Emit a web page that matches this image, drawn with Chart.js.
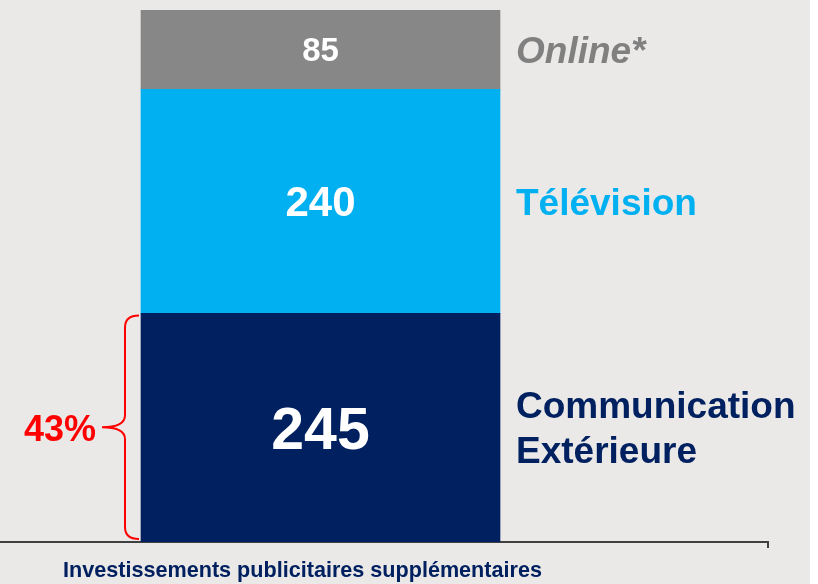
<!DOCTYPE html>
<html>
<head>
<meta charset="utf-8">
<script src="https://cdn.jsdelivr.net/npm/chart.js@4"></script>
<style>
    html, body { margin: 0; padding: 0; background: #ffffff; }
    #wrap { width: 818px; height: 584px; }
</style>
</head>
<body>
<div id="wrap"><canvas id="chart" width="818" height="584"></canvas></div>
<script>
// Données du graphique
const categories = ['Investissements publicitaires supplémentaires'];
const segmentNames = [['Communication', 'Extérieure'], ['Télévision'], ['Online*']];
const segmentValues = [245, 240, 85];

const total = segmentValues.reduce((acc, v) => acc + v, 0);
const FONT = '"Liberation Sans", Arial, sans-serif';

// Styles par segment (bas -> haut)
const segmentColors = ['#002060', '#00b0f0', '#878787'];
const textColors = ['#002060', '#00b0f0', '#808080'];
const valueSizes = [59, 42, 33];

const bgPlugin = {
    id: 'bg',
    beforeDraw(chart) {
        const ctx = chart.ctx;
        ctx.save();
        ctx.fillStyle = '#ebe9e7';
        ctx.fillRect(0, 0, 810, chart.height);
        ctx.restore();
    }
};

// Valeurs dans les barres + libellés à droite
const labelsPlugin = {
    id: 'segLabels',
    afterDatasetsDraw(chart) {
        const ctx = chart.ctx;
        ctx.save();
        chart.data.datasets.forEach((ds, i) => {
            const bar = chart.getDatasetMeta(i).data[0];
            const cy = (bar.y + bar.base) / 2;
            const size = valueSizes[i];
            ctx.fillStyle = '#ffffff';
            ctx.textAlign = 'center';
            ctx.textBaseline = 'alphabetic';
            ctx.font = `bold ${size}px ${FONT}`;
            ctx.fillText(String(ds.data[0]), bar.x, cy + size * 0.716 / 2);

            const lines = segmentNames[i];
            const lh = 45;
            const x = bar.x + bar.width / 2 + 16;
            ctx.textAlign = 'left';
            ctx.fillStyle = textColors[i];
            ctx.font = (i === 2 ? 'italic ' : '') + `bold 37px ${FONT}`;
            lines.forEach((line, k) => {
                const ly = cy + (k - (lines.length - 1) / 2) * lh + 37 * 0.716 / 2;
                ctx.fillText(line, x, ly);
            });
        });
        ctx.restore();
    }
};

// Accolade rouge + pourcentage
const bracePlugin = {
    id: 'brace',
    afterDraw(chart) {
        const bar = chart.getDatasetMeta(0).data[0];
        const ctx = chart.ctx;
        const left = bar.x - bar.width / 2;
        const top = bar.y + 2;
        const bottom = bar.base - 3;
        const mid = (top + bottom) / 2;
        const xEnd = left - 2, xV = left - 16, xTip = left - 39;
        const r = 12;
        ctx.save();
        ctx.strokeStyle = '#ff0000';
        ctx.lineWidth = 2;
        ctx.beginPath();
        ctx.moveTo(xEnd, top);
        ctx.quadraticCurveTo(xV, top, xV, top + r);
        ctx.lineTo(xV, mid - r);
        ctx.quadraticCurveTo(xV, mid, xTip, mid);
        ctx.quadraticCurveTo(xV, mid, xV, mid + r);
        ctx.lineTo(xV, bottom - r);
        ctx.quadraticCurveTo(xV, bottom, xEnd, bottom);
        ctx.stroke();

        const pct = Math.round(segmentValues[0] / total * 100) + '%';
        ctx.fillStyle = '#ff0000';
        ctx.font = `bold 36px ${FONT}`;
        ctx.textAlign = 'right';
        ctx.textBaseline = 'alphabetic';
        ctx.fillText(pct, xTip - 6, mid + 36 * 0.716 / 2 + 1);
        ctx.restore();
    }
};

// Prolongement de l'axe horizontal
const axisPlugin = {
    id: 'axisExt',
    afterDraw(chart) {
        const ctx = chart.ctx;
        const y = Math.round(chart.scales.x.top);
        ctx.save();
        ctx.strokeStyle = '#404040';
        ctx.lineWidth = 2;
        ctx.beginPath();
        ctx.moveTo(chart.chartArea.right - 1, y);
        ctx.lineTo(768, y);
        ctx.lineTo(768, y + 6);
        ctx.stroke();
        ctx.restore();
    }
};

new Chart(document.getElementById('chart').getContext('2d'), {
    type: 'bar',
    data: {
        labels: categories,
        datasets: segmentValues.map((v, i) => ({
            label: segmentNames[i].join(' '),
            data: [v],
            backgroundColor: segmentColors[i],
            borderWidth: 0,
            barThickness: 359
        }))
    },
    options: {
        responsive: false,
        devicePixelRatio: 1,
        animation: false,
        layout: { padding: { left: 0, right: 177, top: 10, bottom: -16 } },
        plugins: {
            legend: { display: false },
            tooltip: { enabled: false }
        },
        scales: {
            x: {
                stacked: true,
                grid: { display: false, drawTicks: false },
                border: { display: true, color: '#404040', width: 2 },
                ticks: {
                    color: '#002060',
                    font: { family: FONT, size: 21.6, weight: 'bold' },
                    padding: 16,
                    labelOffset: -18
                }
            },
            y: {
                stacked: true,
                display: false,
                min: 0,
                max: total
            }
        }
    },
    plugins: [bgPlugin, labelsPlugin, bracePlugin, axisPlugin]
});
</script>
</body>
</html>
